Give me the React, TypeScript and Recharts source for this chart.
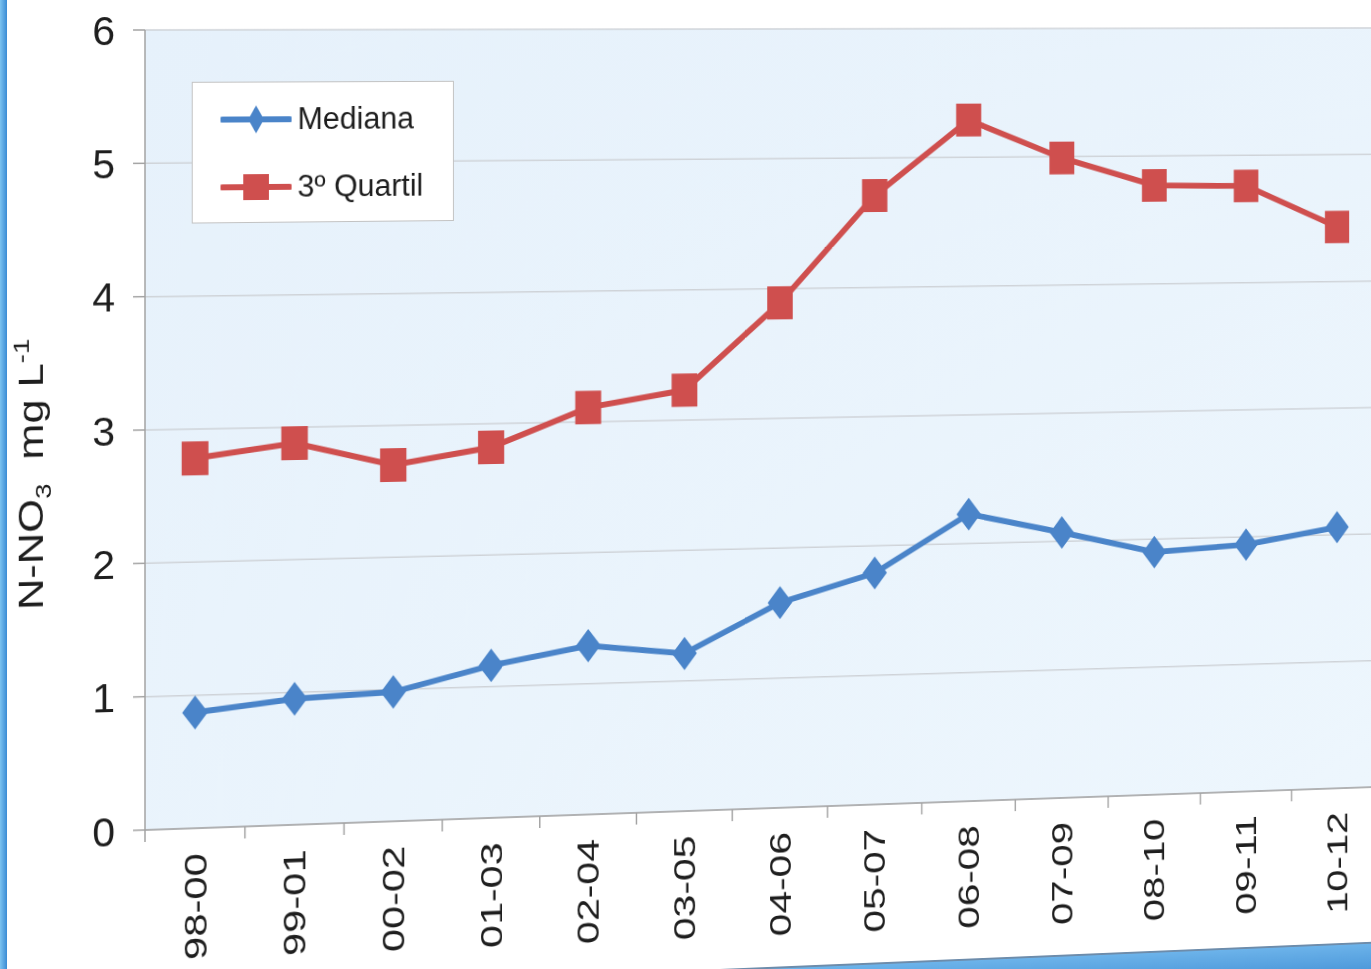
import React from 'react';
import { LineChart, Line, XAxis, YAxis, CartesianGrid, Legend } from 'recharts';

const periods = ['98-00', '99-01', '00-02', '01-03', '02-04', '03-05', '04-06', '05-07', '06-08', '07-09', '08-10', '09-11', '10-12'];
const mediana = [0.87, 0.95, 0.98, 1.16, 1.29, 1.21, 1.58, 1.79, 2.23, 2.07, 1.9, 1.94, 2.06];
const quartil3 = [2.78, 2.88, 2.7, 2.82, 3.11, 3.23, 3.89, 4.71, 5.29, 4.99, 4.77, 4.76, 4.43];
const yTicks = [0, 1, 2, 3, 4, 5, 6];

const data = periods.map((p, i) => ({ period: p, mediana: mediana[i], quartil: quartil3[i] }));

const BLUE = '#4a84c9';
const RED = '#cf4f4e';
const AXIS = '#a3a3a3';
const TEXT = '#1e1e1e';
const FONT = '"Liberation Sans", Arial, sans-serif';

function Diamond({ cx, cy }: any) {
  if (cx == null || cy == null) return null;
  return <path d={`M${cx},${cy - 17}L${cx + 13},${cy}L${cx},${cy + 17}L${cx - 13},${cy}Z`} fill={BLUE} />;
}

function Square({ cx, cy }: any) {
  if (cx == null || cy == null) return null;
  return <rect x={cx - 13.5} y={cy - 17} width={27} height={34} fill={RED} />;
}

// category labels plus Excel-style tick marks between the categories
function PeriodTick({ x, y, payload, index, width, visibleTicksCount }: any) {
  const n = visibleTicksCount || periods.length;
  const half = (typeof width === 'number' ? width : 1309) / n / 2;
  const axisY = y - 25;
  return (
    <g>
      <line x1={x - half} y1={axisY} x2={x - half} y2={axisY + 12} stroke={AXIS} strokeWidth={1.5} />
      {index === n - 1 && <line x1={x + half} y1={axisY} x2={x + half} y2={axisY + 12} stroke={AXIS} strokeWidth={1.5} />}
      <text
        transform={`translate(${x},${y}) rotate(-90) scale(1.35,1)`}
        textAnchor="end"
        dy="0.36em"
        fontSize={31}
        fontFamily={FONT}
        fill={TEXT}
      >
        {payload.value}
      </text>
    </g>
  );
}

function YLabel({ viewBox }: any) {
  const vb = viewBox ?? { x: 0, y: 30, width: 145, height: 800 };
  const cx = vb.x + 43;
  const cy = vb.y + vb.height / 2 + 42;
  return (
    <text
      transform={`translate(${cx},${cy}) rotate(-90) scale(1.2,1)`}
      textAnchor="middle"
      fontSize={36}
      fontFamily={FONT}
      fill={TEXT}
    >
      N-NO
      <tspan fontSize={23} dy={8}>3</tspan>
      <tspan dy={-8}>{'\u00a0\u00a0mg L'}</tspan>
      <tspan fontSize={23} dy={-14}>-1</tspan>
    </text>
  );
}

function LegendIcon({ color, square }: { color: string; square?: boolean }) {
  return (
    <svg width={72} height={36} style={{ display: 'block' }}>
      <line x1={2} y1={18} x2={70} y2={18} stroke={color} strokeWidth={6} strokeLinecap="round" />
      {square ? (
        <rect x={23} y={5} width={26} height={26} fill={color} />
      ) : (
        <path d="M36,4L44,18L36,32L28,18Z" fill={color} />
      )}
    </svg>
  );
}

function LegendBox() {
  const row: React.CSSProperties = { display: 'flex', alignItems: 'center', height: 68 };
  return (
    <div
      style={{
        width: 267,
        height: 142,
        boxSizing: 'border-box',
        background: '#ffffff',
        border: '1.5px solid #c2c2c2',
        padding: '3px 0 0 28px',
        fontFamily: FONT,
        fontSize: 31,
        color: TEXT,
      }}
    >
      <div style={row}>
        <LegendIcon color={BLUE} />
        <span style={{ marginLeft: 6 }}>Mediana</span>
      </div>
      <div style={row}>
        <LegendIcon color={RED} square />
        <span style={{ marginLeft: 6 }}>3º Quartil</span>
      </div>
    </div>
  );
}

export default function App() {
  return (
    <div
      style={{
        position: 'absolute',
        left: 0,
        top: 0,
        width: 1371,
        height: 969,
        overflow: 'hidden',
        background: '#ffffff',
        perspective: '2000px',
        perspectiveOrigin: '145px -10px',
      }}
    >
      {/* the slide was photographed at an angle, so tilt the whole chart a little */}
      <div
        style={{
          position: 'absolute',
          left: 0,
          top: 0,
          width: 1500,
          height: 1050,
          transformOrigin: '145px 0px',
          transform: 'rotateY(4.76deg)',
        }}
      >
        <LineChart width={1500} height={969} data={data} margin={{ top: 30, right: 46, bottom: 0, left: 0 }}>
          <defs>
            <linearGradient id="plotBg" x1="0" y1="0" x2="1" y2="1">
              <stop offset="0%" stopColor="#e6f1fb" />
              <stop offset="100%" stopColor="#edf6fd" />
            </linearGradient>
          </defs>
          <CartesianGrid vertical={false} stroke="#cfd3d8" strokeWidth={1.5} fill="url(#plotBg)" fillOpacity={1} />
          <XAxis
            dataKey="period"
            scale="band"
            height={139}
            interval={0}
            tickLine={false}
            tickSize={0}
            tickMargin={25}
            axisLine={{ stroke: AXIS, strokeWidth: 1.5 }}
            tick={<PeriodTick />}
          />
          <YAxis
            domain={[0, 6]}
            ticks={yTicks}
            width={145}
            tickSize={12}
            tickMargin={18}
            axisLine={{ stroke: AXIS, strokeWidth: 1.5 }}
            tickLine={{ stroke: AXIS, strokeWidth: 1.5 }}
            tick={{ fontSize: 41, fontFamily: FONT, fill: TEXT }}
            label={<YLabel />}
          />
          <Legend
            layout="vertical"
            align="center"
            verticalAlign="middle"
            content={() => <LegendBox />}
            wrapperStyle={{ left: 192, top: 82, width: 267, height: 142 }}
          />
          <Line
            type="linear"
            dataKey="mediana"
            name="Mediana"
            stroke={BLUE}
            strokeWidth={6}
            dot={(p: any) => <Diamond key={`d-${p.index}`} {...p} />}
            activeDot={false}
            isAnimationActive={false}
          />
          <Line
            type="linear"
            dataKey="quartil"
            name="3º Quartil"
            stroke={RED}
            strokeWidth={6}
            dot={(p: any) => <Square key={`s-${p.index}`} {...p} />}
            activeDot={false}
            isAnimationActive={false}
          />
        </LineChart>
        <div
          style={{
            position: 'absolute',
            left: 0,
            top: 993,
            width: 1500,
            height: 57,
            boxSizing: 'border-box',
            borderTop: '2px solid #6d8cab',
            background: 'linear-gradient(#6cb3ea, #2f7fcb)',
          }}
        />
      </div>
      <div
        style={{
          position: 'absolute',
          left: 0,
          top: 0,
          width: 7,
          height: 969,
          background: 'linear-gradient(to right, #7cc3f0, #3a8bd4)',
        }}
      />
    </div>
  );
}
